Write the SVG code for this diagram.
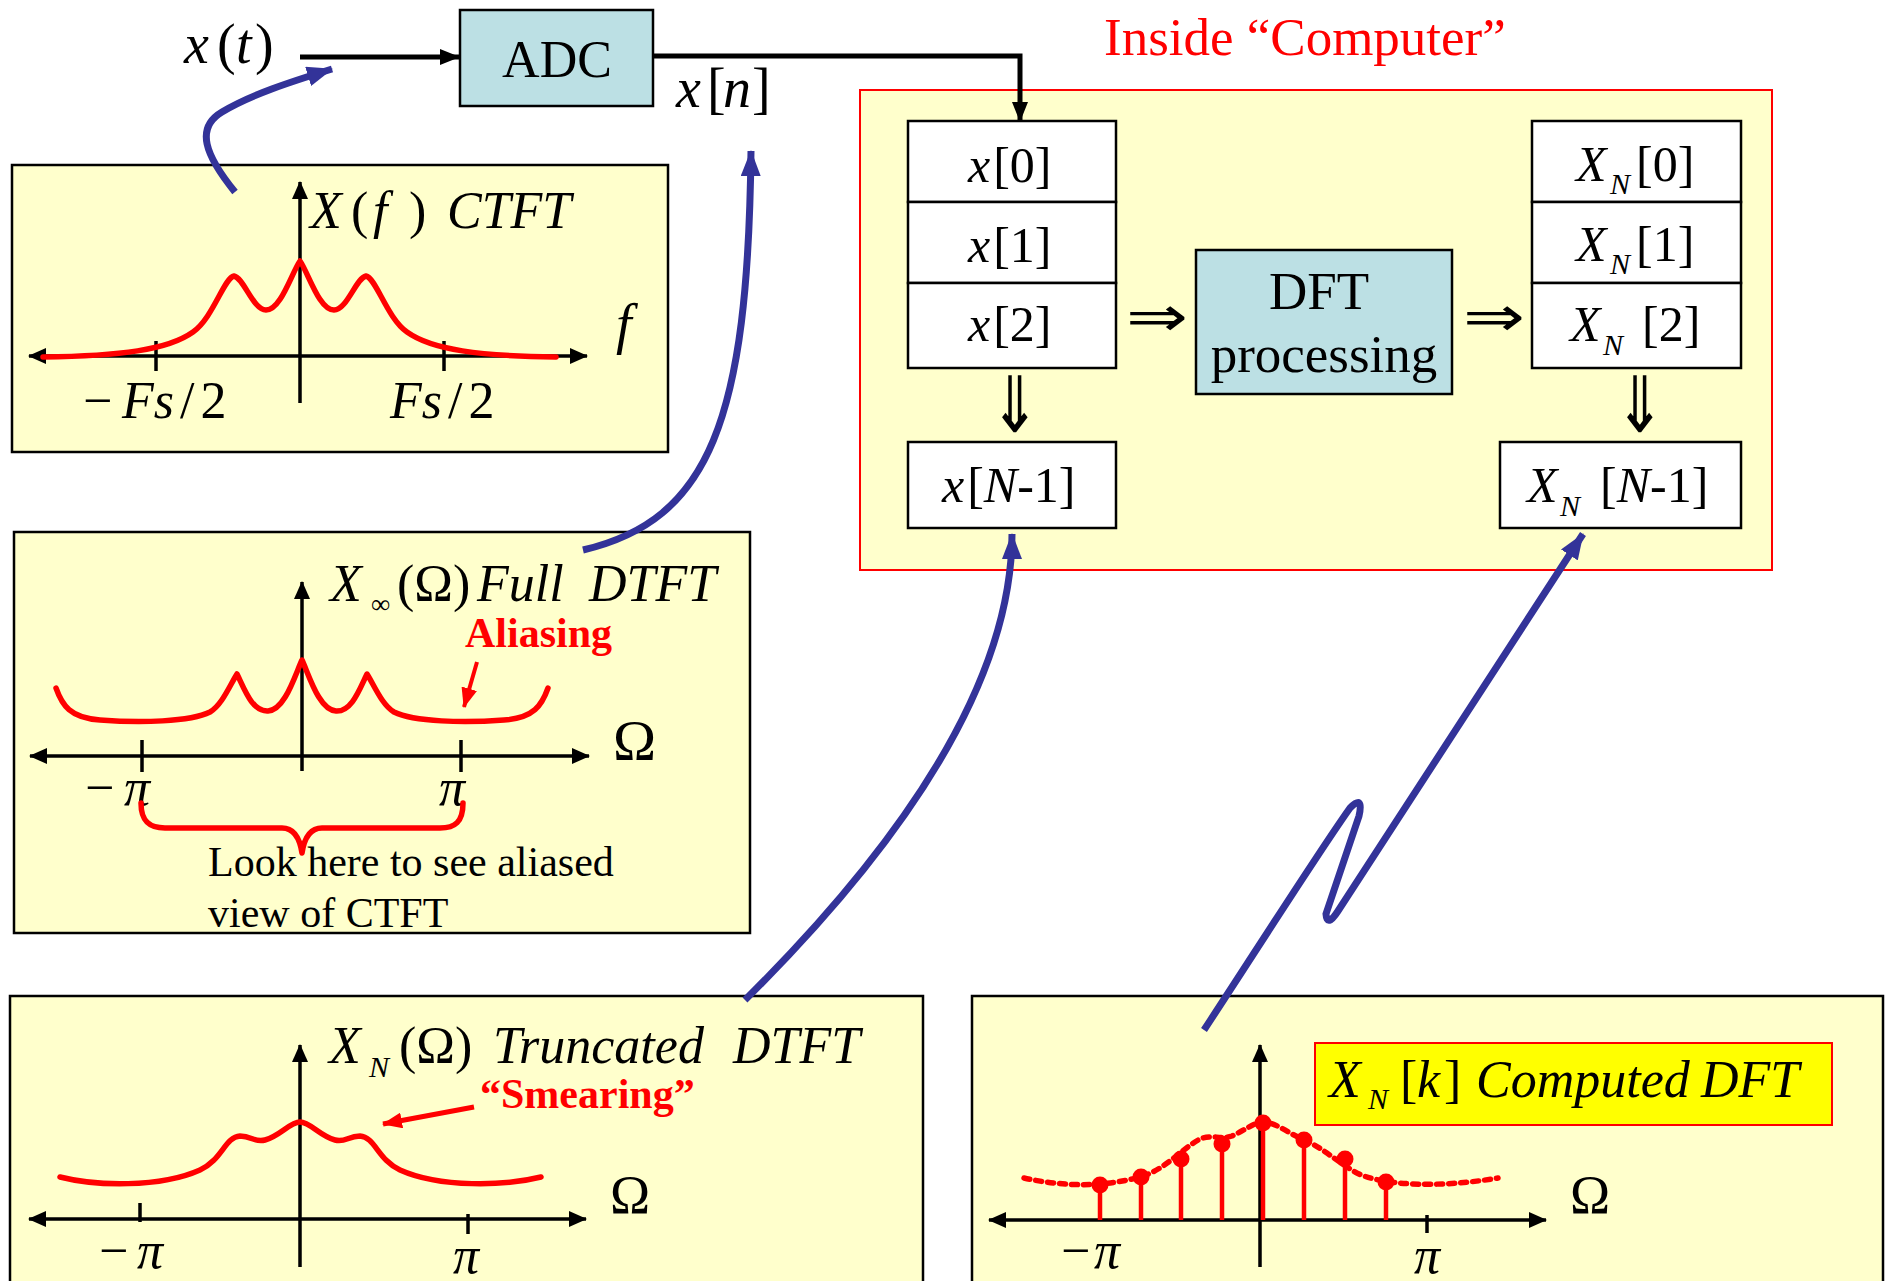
<svg xmlns="http://www.w3.org/2000/svg" width="1886" height="1281" viewBox="0 0 1886 1281">
<style>
.panel{fill:#FFFFCC;stroke:#000;stroke-width:2.5}
.cell{fill:#FFFFFF;stroke:#000;stroke-width:2.5}
.proc{fill:#BCE0E4;stroke:#000;stroke-width:2.5}
.t{font-family:"Liberation Serif","Times New Roman",serif;fill:#000}
.i{font-style:italic}
.red{fill:#FF0000}
.b{font-weight:bold}
.sym{font-family:"DejaVu Sans",sans-serif;fill:#000}
.axis{stroke:#000;stroke-width:3.5;fill:none}
.tick{stroke:#000;stroke-width:3.5}
.rc{stroke:#FF0000;stroke-width:5.5;fill:none;stroke-linejoin:round;stroke-linecap:round}
.bl{stroke:#333399;stroke-width:7;fill:none}
.wire{stroke:#000;stroke-width:5;fill:none}
.stem{stroke:#FF0000;stroke-width:4.5}
</style>
<defs>
<marker id="ax" viewBox="0 0 18 16" refX="17" refY="8" markerWidth="18" markerHeight="16" orient="auto-start-reverse" markerUnits="userSpaceOnUse"><path d="M0,0 L18,8 L0,16 z" fill="#000"/></marker>
<marker id="ab" viewBox="0 0 20 16" refX="19" refY="8" markerWidth="20" markerHeight="16" orient="auto" markerUnits="userSpaceOnUse"><path d="M0,0 L20,8 L0,16 z" fill="#000"/></marker>
<marker id="ablue" viewBox="0 0 26 20" refX="25" refY="10" markerWidth="26" markerHeight="20" orient="auto" markerUnits="userSpaceOnUse"><path d="M0,0 L26,10 L0,20 z" fill="#333399"/></marker>
<marker id="ared" viewBox="0 0 20 16" refX="19" refY="8" markerWidth="20" markerHeight="16" orient="auto" markerUnits="userSpaceOnUse"><path d="M0,0 L20,8 L0,16 z" fill="#FF0000"/></marker>
</defs>
<rect width="1886" height="1281" fill="#FFFFFF"/>

<g id="label-xt"><text class="t" font-size="56" y="63"><tspan x="184" class="i">x</tspan><tspan x="217">(</tspan><tspan x="236" class="i">t</tspan><tspan x="255">)</tspan></text></g>

<g id="adc"><rect class="proc" x="460" y="10" width="193" height="96"/><text class="t" font-size="52" x="557" y="77" text-anchor="middle">ADC</text></g>

<g id="label-xn"><text class="t" font-size="56" y="107"><tspan x="676" class="i">x</tspan><tspan x="707">[</tspan><tspan x="723" class="i">n</tspan><tspan x="752">]</tspan></text></g>

<g id="computer"><rect x="860" y="90" width="912" height="480" fill="#FFFFCC" stroke="#FF0000" stroke-width="2"/><text class="t red" font-size="53" x="1104" y="55">Inside “Computer”</text></g>

<g id="x0"><rect class="cell" x="908" y="121" width="208" height="81"/><text class="t" font-size="50" x="968" y="182"><tspan class="i">x</tspan><tspan dx="3">[0]</tspan></text></g>
<g id="x1"><rect class="cell" x="908" y="202" width="208" height="81"/><text class="t" font-size="50" x="968" y="262"><tspan class="i">x</tspan><tspan dx="3">[1]</tspan></text></g>
<g id="x2"><rect class="cell" x="908" y="283" width="208" height="85"/><text class="t" font-size="50" x="968" y="341"><tspan class="i">x</tspan><tspan dx="3">[2]</tspan></text></g>
<g id="xN1"><rect class="cell" x="908" y="442" width="208" height="86"/><text class="t" font-size="50" x="942" y="502"><tspan class="i">x</tspan><tspan dx="3">[</tspan><tspan class="i">N</tspan><tspan>-1]</tspan></text></g>

<g id="dft"><rect class="proc" x="1196" y="250" width="256" height="144"/><text class="t" font-size="53" x="1319" y="309" text-anchor="middle">DFT</text><text class="t" font-size="53" x="1324" y="372" text-anchor="middle">processing</text></g>

<g id="X0"><rect class="cell" x="1532" y="121" width="209" height="81"/><text class="t" font-size="50"><tspan class="i" x="1576" y="181">X</tspan><tspan class="i" font-size="30" x="1610" y="194">N</tspan><tspan x="1636" y="181">[0]</tspan></text></g>
<g id="X1"><rect class="cell" x="1532" y="202" width="209" height="81"/><text class="t" font-size="50"><tspan class="i" x="1576" y="261">X</tspan><tspan class="i" font-size="30" x="1610" y="274">N</tspan><tspan x="1636" y="261">[1]</tspan></text></g>
<g id="X2"><rect class="cell" x="1532" y="283" width="209" height="85"/><text class="t" font-size="50"><tspan class="i" x="1570" y="341">X</tspan><tspan class="i" font-size="30" x="1603" y="355">N</tspan><tspan x="1642" y="341">[2]</tspan></text></g>
<g id="XN1"><rect class="cell" x="1500" y="442" width="241" height="86"/><text class="t" font-size="50"><tspan class="i" x="1527" y="502">X</tspan><tspan class="i" font-size="30" x="1560" y="516">N</tspan><tspan x="1600" y="502">[</tspan><tspan class="i">N</tspan><tspan>-1]</tspan></text></g>

<g id="ops">
<text class="sym" font-size="56" x="1126" y="336" textLength="62" lengthAdjust="spacingAndGlyphs">⇒</text>
<text class="sym" font-size="56" x="1463" y="336" textLength="62" lengthAdjust="spacingAndGlyphs">⇒</text>
<text class="sym" font-size="60" text-anchor="middle" transform="translate(1015,432) scale(1,1.3)">⇓</text>
<text class="sym" font-size="60" text-anchor="middle" transform="translate(1640,432) scale(1,1.3)">⇓</text>
</g>

<g id="panel-ctft">
<rect class="panel" x="12" y="165" width="656" height="287"/>
<path class="axis" d="M29,356 L587,356" marker-start="url(#ax)" marker-end="url(#ax)"/>
<path class="axis" d="M300,403 L300,182" marker-end="url(#ax)"/>
<line class="tick" x1="156" y1="341" x2="156" y2="371"/>
<line class="tick" x1="444" y1="341" x2="444" y2="371"/>
<path class="rc" d="M43,357 C120,356 168,350 193,332 C213,318 224,278 234,276 C244,278 253,310 266,310 C281,310 292,272 300,261 C308,272 319,310 334,310 C347,310 356,278 366,276 C376,278 387,318 407,332 C432,350 480,356 556,357"/>
<text class="t" font-size="52" y="228"><tspan class="i" x="310">X</tspan><tspan x="351">(</tspan><tspan class="i" x="373">f</tspan><tspan x="409">)</tspan><tspan class="i" x="447">CTFT</tspan></text>
<text class="t i" font-size="56" x="616" y="343">f</text>
<text class="t" font-size="52" y="418"><tspan x="83">−</tspan><tspan class="i" x="122">Fs</tspan><tspan dx="6">/</tspan><tspan dx="6">2</tspan></text>
<text class="t" font-size="52" y="418"><tspan class="i" x="390">Fs</tspan><tspan dx="6">/</tspan><tspan dx="6">2</tspan></text>
</g>

<g id="panel-dtft">
<rect class="panel" x="14" y="532" width="736" height="401"/>
<path class="axis" d="M30,756 L589,756" marker-start="url(#ax)" marker-end="url(#ax)"/>
<path class="axis" d="M302,771 L302,582" marker-end="url(#ax)"/>
<line class="tick" x1="142" y1="740" x2="142" y2="772"/>
<line class="tick" x1="461" y1="740" x2="461" y2="772"/>
<path class="rc" d="M56,688 C62,705 70,718 100,720 C140,723 190,722 210,712 C222,705 230,685 237,674 C244,688 252,712 268,711 C285,710 295,675 302,660 C309,675 319,710 336,711 C352,712 360,688 367,674 C374,685 382,705 394,712 C414,722 464,723 504,720 C534,718 542,705 548,688"/>
<text class="t" font-size="52" y="601"><tspan class="i" x="330">X</tspan><tspan font-size="27" x="371" y="613">∞</tspan><tspan x="397" y="601">(Ω)</tspan><tspan class="i" x="477">Full</tspan><tspan class="i" x="589">DTFT</tspan></text>
<text class="t red b" font-size="42" x="465" y="647">Aliasing</text>
<path d="M477,662 L464,707" stroke="#FF0000" stroke-width="4" marker-end="url(#ared)"/>
<text class="t" font-size="58" x="613" y="760">Ω</text>
<text class="t" font-size="52" y="805"><tspan x="85">−</tspan><tspan class="i" x="124">π</tspan></text>
<text class="t i" font-size="52" x="439" y="805">π</text>
<path class="rc" stroke-width="5" d="M141,803 C141,822 150,828 165,828 L282,828 C295,828 300,840 302,853 C304,840 309,828 322,828 L440,828 C455,828 463,822 463,803"/>
<text class="t" font-size="42" x="208" y="876">Look here to see aliased</text>
<text class="t" font-size="42" x="208" y="927">view of CTFT</text>
</g>

<g id="panel-truncated">
<rect class="panel" x="10" y="996" width="913" height="300"/>
<path class="axis" d="M29,1219 L586,1219" marker-start="url(#ax)" marker-end="url(#ax)"/>
<path class="axis" d="M300,1267 L300,1045" marker-end="url(#ax)"/>
<line class="tick" x1="140" y1="1203" x2="140" y2="1222"/>
<line class="tick" x1="468" y1="1214" x2="468" y2="1234"/>
<path class="rc" d="M60,1177 C95,1186 160,1188 200,1170 C222,1160 225,1137 240,1136 C252,1136 255,1143 265,1140 C280,1136 290,1122 300,1122 C310,1122 320,1136 335,1140 C345,1143 348,1136 360,1136 C375,1137 378,1160 400,1170 C440,1188 505,1186 541,1177"/>
<text class="t" font-size="52" y="1063"><tspan class="i" x="329">X</tspan><tspan class="i" font-size="30" x="369" y="1077">N</tspan><tspan x="399" y="1063">(Ω)</tspan><tspan class="i" x="493">Truncated</tspan><tspan class="i" x="733">DTFT</tspan></text>
<text class="t red b" font-size="42" x="480" y="1108">“Smearing”</text>
<path d="M474,1107 L383,1124" stroke="#FF0000" stroke-width="5" marker-end="url(#ared)"/>
<text class="t" font-size="54" x="610" y="1213">Ω</text>
<text class="t" font-size="52" y="1268"><tspan x="99">−</tspan><tspan class="i" x="137">π</tspan></text>
<text class="t i" font-size="52" x="453" y="1273">π</text>
</g>

<g id="panel-dft">
<rect class="panel" x="972" y="996" width="911" height="300"/>
<path class="axis" d="M989,1220 L1546,1220" marker-start="url(#ax)" marker-end="url(#ax)"/>
<path class="axis" d="M1260,1267 L1260,1045" marker-end="url(#ax)"/>
<line class="tick" x1="1427" y1="1215" x2="1427" y2="1233"/>
<path class="rc" stroke-width="5.5" stroke-dasharray="6 6" stroke-linecap="butt" d="M1024,1178 C1060,1186 1100,1188 1140,1177 C1165,1170 1180,1150 1200,1139 C1212,1134 1220,1140 1232,1136 C1245,1130 1255,1122 1263,1122 C1275,1122 1290,1134 1302,1139 C1320,1146 1335,1160 1355,1172 C1380,1186 1440,1188 1498,1178"/>
<g fill="#FF0000">
<line class="stem" x1="1100" y1="1220" x2="1100" y2="1185"/><circle cx="1100" cy="1185" r="8.5"/>
<line class="stem" x1="1141" y1="1220" x2="1141" y2="1177"/><circle cx="1141" cy="1177" r="8.5"/>
<line class="stem" x1="1181" y1="1220" x2="1181" y2="1159"/><circle cx="1181" cy="1159" r="8.5"/>
<line class="stem" x1="1222" y1="1220" x2="1222" y2="1144"/><circle cx="1222" cy="1144" r="8.5"/>
<line class="stem" x1="1263" y1="1220" x2="1263" y2="1123"/><circle cx="1263" cy="1123" r="8.5"/>
<line class="stem" x1="1304" y1="1220" x2="1304" y2="1140"/><circle cx="1304" cy="1140" r="8.5"/>
<line class="stem" x1="1345" y1="1220" x2="1345" y2="1159"/><circle cx="1345" cy="1159" r="8.5"/>
<line class="stem" x1="1386" y1="1220" x2="1386" y2="1182"/><circle cx="1386" cy="1182" r="8.5"/>
</g>
<rect x="1315" y="1043" width="517" height="82" fill="#FFFF00" stroke="#FF0000" stroke-width="2"/>
<text class="t" font-size="52" y="1097"><tspan class="i" x="1329">X</tspan><tspan class="i" font-size="30" x="1368" y="1109">N</tspan><tspan x="1400" y="1097">[</tspan><tspan class="i" x="1417">k</tspan><tspan x="1444">]</tspan><tspan class="i" x="1476">Computed</tspan><tspan class="i" x="1701">DFT</tspan></text>
<text class="t" font-size="54" x="1570" y="1213">Ω</text>
<text class="t" font-size="52" y="1268"><tspan x="1061">−</tspan><tspan class="i" x="1094">π</tspan></text>
<text class="t i" font-size="52" x="1414" y="1273">π</text>
</g>

<g id="connectors">
<path class="wire" d="M300,57 L459,57" marker-end="url(#ab)"/>
<path class="wire" d="M653,56 L1020,56 L1020,121" marker-end="url(#ab)"/>
<path class="bl" d="M235,192 C205,155 195,128 222,112 C250,95 290,82 332,69" marker-end="url(#ablue)"/>
<path class="bl" d="M583,550 C710,520 748,420 751,151" marker-end="url(#ablue)"/>
<path class="bl" d="M745,1000 Q1012,735 1012,534" marker-end="url(#ablue)"/>
<path class="bl" d="M1204,1030 C1250,960 1320,850 1350,808 Q1364,794 1359,816 L1326,914 Q1327,928 1338,911 L1583,534" marker-end="url(#ablue)"/>
</g>
</svg>
